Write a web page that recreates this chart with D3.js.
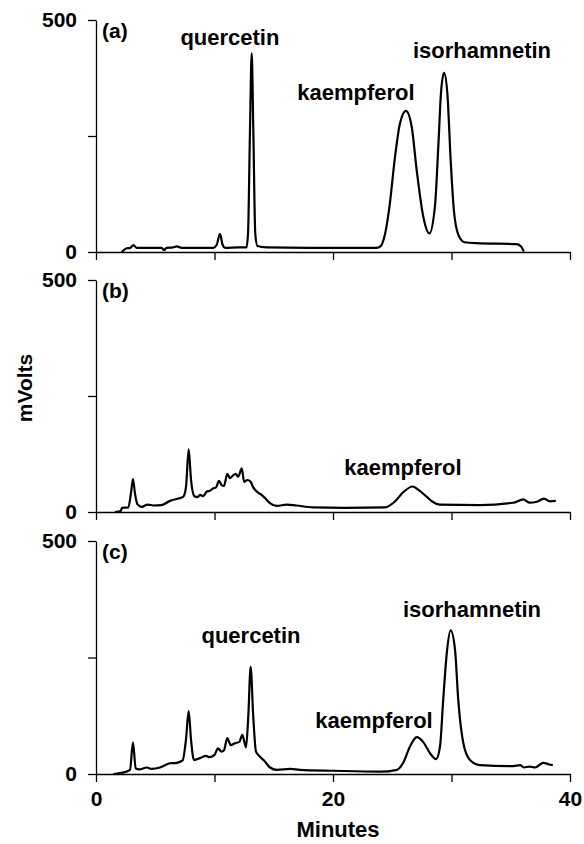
<!DOCTYPE html>
<html>
<head>
<meta charset="utf-8">
<script src="https://cdn.jsdelivr.net/npm/d3@7"></script>
<style>
  body { margin: 0; background: #fff; }
  svg text { font-family: "Liberation Sans", Arial, Helvetica, sans-serif; font-weight: bold; fill: #000; }
</style>
</head>
<body>
<div id="chart"></div>
<script>
// retention time (minutes) and detector response (mV)
const traceA = [
  [2.17, 0], [2.6, 8], [2.9, 9], [3.15, 15], [3.43, 9], [4.5, 9], [5.54, 9], [5.74, 4], [5.96, 9],
  [6.5, 10], [6.81, 12], [7.23, 9], [8.5, 9], [9.9, 9], [10.18, 15], [10.46, 39], [10.69, 15],
  [10.89, 9], [12.0, 10], [12.7, 10], [12.83, 40], [12.99, 256], [13.14, 428], [13.28, 256],
  [13.44, 40], [13.62, 13], [14.4, 10], [18.0, 9], [21.0, 9], [23.7, 9], [24.0, 12],
  [24.4, 40], [24.8, 105], [25.2, 198], [25.65, 277], [26.16, 304], [26.64, 270], [27.06, 177],
  [27.62, 76], [28.13, 40], [28.6, 98], [28.9, 234], [29.11, 342], [29.37, 386], [29.65, 342],
  [29.93, 198], [30.2, 90], [30.58, 37], [31.1, 21], [32.1, 19], [35.5, 17], [35.9, 11], [36.1, 1]
];

const traceB = [
  [1.6, 0], [2.08, 2], [2.19, 9], [2.73, 10], [2.95, 40], [3.12, 71], [3.29, 40], [3.49, 17],
  [3.85, 11], [4.35, 16], [4.84, 14], [5.54, 15], [6.24, 24], [6.95, 29], [7.37, 33], [7.6, 55],
  [7.82, 135], [8.02, 69], [8.3, 34], [8.58, 32], [8.78, 37], [9.06, 34], [9.34, 44], [9.62, 46],
  [9.9, 51], [10.13, 53], [10.38, 67], [10.6, 58], [10.8, 56], [11.08, 82], [11.3, 73],
  [11.53, 78], [11.79, 82], [12.0, 76], [12.3, 94], [12.5, 65], [12.77, 69], [13.05, 65],
  [13.27, 53], [13.56, 44], [13.98, 37], [14.26, 30], [14.68, 19], [15.25, 13], [16.1, 16],
  [16.9, 14], [18.3, 10], [21.0, 9], [24.4, 10], [25.2, 22], [25.9, 42], [26.72, 55],
  [27.3, 46], [27.9, 33], [28.4, 22], [29.0, 16], [32.4, 15], [35.2, 20], [36.06, 27],
  [36.6, 20], [37.2, 22], [37.8, 29], [38.3, 23], [38.8, 24]
];

const traceC = [
  [1.46, 0], [2.03, 2], [2.53, 5], [2.87, 9], [3.12, 68], [3.35, 12], [3.66, 10], [4.28, 14],
  [4.7, 11], [5.4, 14], [6.24, 23], [6.81, 24], [7.31, 29], [7.59, 73], [7.82, 135], [8.02, 73],
  [8.27, 30], [8.78, 34], [9.28, 39], [9.56, 36], [10.0, 41], [10.3, 55], [10.6, 48], [10.8, 51],
  [11.08, 77], [11.37, 62], [11.73, 66], [12.1, 69], [12.35, 84], [12.66, 57], [12.85, 123],
  [13.05, 230], [13.27, 123], [13.5, 48], [13.84, 37], [14.18, 29], [14.68, 14], [15.25, 9],
  [16.4, 11], [17.2, 9], [20.0, 7], [23.97, 5], [25.4, 9], [25.9, 23], [26.5, 59], [27.06, 79],
  [27.6, 69], [28.2, 44], [28.7, 32], [29.03, 59], [29.3, 159], [29.6, 259], [29.93, 308],
  [30.3, 266], [30.57, 159], [31.0, 66], [31.56, 30], [32.4, 19], [35.2, 17], [35.8, 19],
  [36.1, 14], [36.6, 16], [37.05, 14], [37.75, 24], [38.2, 21], [38.55, 19]
];

const panelNames = ["(a)", "(b)", "(c)"];
const peakLabelsA = [["quercetin", 11.3, 446], ["kaempferol", 21.94, 328], ["isorhamnetin", 32.57, 418]];
const peakLabelsB = [["kaempferol", 25.9, 80]];
const peakLabelsC = [["quercetin", 13.08, 281], ["kaempferol", 23.46, 99], ["isorhamnetin", 31.73, 337]];

const xTicks = [0, 10, 20, 30, 40];
const xTickLabels = [0, 20, 40];
const yTicks = [0, 250, 500];
const yTickLabels = [0, 500];

const width = 584, height = 844;

const svg = d3.select("#chart").append("svg")
  .attr("width", width)
  .attr("height", height);

const x = d3.scaleLinear().domain([0, 40]).range([96, 570]);

const panels = [
  { name: panelNames[0], trace: traceA, labels: peakLabelsA, top: 20, bottom: 252, showX: false },
  { name: panelNames[1], trace: traceB, labels: peakLabelsB, top: 280, bottom: 512, showX: false },
  { name: panelNames[2], trace: traceC, labels: peakLabelsC, top: 541, bottom: 774, showX: true }
];

panels.forEach(p => {
  const y = d3.scaleLinear().domain([0, 500]).range([p.bottom, p.top]);
  const g = svg.append("g");

  // x axis
  const xAxis = g.append("g")
    .attr("transform", `translate(0,${p.bottom})`)
    .call(d3.axisBottom(x)
      .tickValues(xTicks)
      .tickSize(8)
      .tickSizeOuter(0)
      .tickPadding(9)
      .tickFormat(d => (p.showX && xTickLabels.includes(d)) ? d : ""));

  // y axis
  const yAxis = g.append("g")
    .attr("transform", `translate(${x(0)},0)`)
    .call(d3.axisLeft(y)
      .tickValues(yTicks)
      .tickSize(8)
      .tickSizeOuter(0)
      .tickPadding(11)
      .tickFormat(d => yTickLabels.includes(d) ? d : ""));

  [xAxis, yAxis].forEach(a => {
    a.selectAll("path, line").attr("stroke", "#000").attr("stroke-width", 1.3);
    a.selectAll("text").attr("font-size", 21).attr("fill", "#000");
  });

  const line = d3.line()
    .x(d => x(d[0]))
    .y(d => y(d[1]))
    .curve(d3.curveMonotoneX);

  g.append("path")
    .datum(p.trace)
    .attr("fill", "none")
    .attr("stroke", "#000")
    .attr("stroke-width", 2.2)
    .attr("stroke-linejoin", "round")
    .attr("d", line);

  g.append("text")
    .attr("x", x(0) + 6)
    .attr("y", p.top + 18)
    .attr("font-size", 21)
    .text(p.name);

  g.selectAll(".peak")
    .data(p.labels)
    .enter().append("text")
    .attr("class", "peak")
    .attr("x", d => x(d[1]))
    .attr("y", d => y(d[2]))
    .attr("text-anchor", "middle")
    .attr("font-size", 22)
    .text(d => d[0]);
});

svg.append("text")
  .attr("transform", "translate(32,388) rotate(-90)")
  .attr("text-anchor", "middle")
  .attr("font-size", 21)
  .text("mVolts");

svg.append("text")
  .attr("x", 338)
  .attr("y", 837)
  .attr("text-anchor", "middle")
  .attr("font-size", 22)
  .text("Minutes");
</script>
</body>
</html>
